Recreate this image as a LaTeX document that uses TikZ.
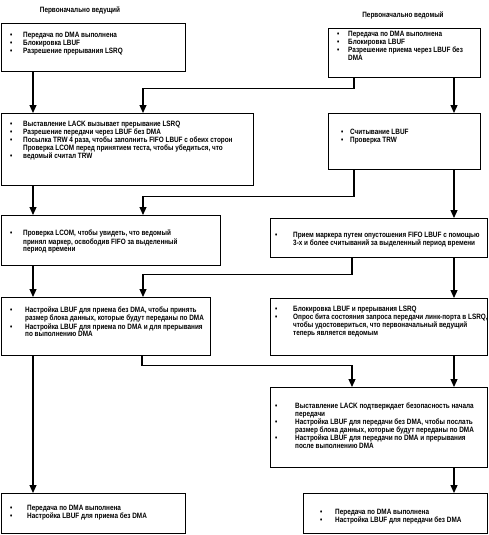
\documentclass[tikz,border=0pt]{standalone}
\usepackage{fontspec}
\setmainfont{Liberation Sans}[FakeStretch=0.83]
\usetikzlibrary{arrows.meta,calc}
\newcommand\bu{\textbullet}
\newcommand\fs{\fontsize{7.7}{7.9}\selectfont\bfseries}
\begin{document}
\begin{tikzpicture}[x=1pt,y=-1pt,
  box/.style={draw, line width=1.2pt, anchor=north west, inner sep=0pt},
  txt/.style={anchor=north west, inner sep=0pt, font=\fs},
  ttl/.style={inner sep=0pt, font=\fs},
  con/.style={line width=1.2pt, -{Triangle[width=7pt,length=8pt]}}]
\useasboundingbox (0,0) rectangle (489,535);
\fill[white] (0,0) rectangle (489,535);
% titles
\node[ttl] (t1) at (80,10) {Первоначально ведущий};
\node[ttl] (t2) at (403,15) {Первоначально ведомый};
% boxes
\node[box, minimum width=184pt, minimum height=48pt] (L1) at (1,23) {};
\node[box, minimum width=152pt, minimum height=49pt] (R1) at (328,28) {};
\node[box, minimum width=252pt, minimum height=72pt] (L2) at (1,113) {};
\node[box, minimum width=152pt, minimum height=56pt] (R2) at (328,113) {};
\node[box, minimum width=219pt, minimum height=50pt] (L3) at (1,215) {};
\node[box, minimum width=217pt, minimum height=39pt] (R3) at (270,218) {};
\node[box, minimum width=209pt, minimum height=58pt] (L4) at (1,297) {};
\node[box, minimum width=217pt, minimum height=57pt] (R4) at (270,298) {};
\node[box, minimum width=217pt, minimum height=80pt] (R5) at (270,387) {};
\node[box, minimum width=184pt, minimum height=40pt] (L5) at (1,493) {};
\node[box, minimum width=184pt, minimum height=40pt] (R6) at (303,493) {};
% texts
\node[txt] (tL1) at (10,32) {\begin{tabular}{@{}p{13pt}@{}l@{}}
\bu & Передача по DMA выполнена\\
\bu & Блокировка LBUF\\
\bu & Разрешение прерывания LSRQ\end{tabular}};
\node[txt] (tR1) at (337,31) {\begin{tabular}{@{}p{11pt}@{}l@{}}
\bu & Передача по DMA выполнена\\
\bu & Блокировка LBUF\\
\bu & Разрешение приема через LBUF без\\
 & DMA\end{tabular}};
\node[txt] (tL2) at (10,121) {\begin{tabular}{@{}p{13pt}@{}l@{}}
\bu & Выставление LACK вызывает прерывание LSRQ\\
\bu & Разрешение передачи через LBUF без DMA\\
\bu & Посылка TRW 4 раза, чтобы заполнить FIFO LBUF с обеих сторон\\
 & Проверка LCOM перед принятием теста, чтобы убедиться, что\\
\bu & ведомый считал TRW\end{tabular}};
\node[txt] (tR2) at (341,129) {\begin{tabular}{@{}p{9pt}@{}l@{}}
\bu & Считывание LBUF\\
\bu & Проверка TRW\end{tabular}};
\node[txt] (tL3) at (10,230) {\begin{tabular}{@{}p{13pt}@{}l@{}}
\bu & Проверка LCOM, чтобы увидеть, что ведомый\\
 & принял маркер, освободив FIFO за выделенный\\
 & период времени\end{tabular}};
\node[txt] (tR3) at (275,232) {\begin{tabular}{@{}p{18pt}@{}l@{}}
\bu & Прием маркера путем опустошения FIFO LBUF с помощью\\
 & 3-х и более считываний за выделенный период времени\end{tabular}};
\node[txt] (tL4) at (10,307) {\begin{tabular}{@{}p{15pt}@{}l@{}}
\bu & Настройка LBUF для приема без DMA, чтобы принять\\
 & размер блока данных, которые будут переданы по DMA\\
\bu & Настройка LBUF для приема по DMA и для прерывания\\
 & по выполнению DMA\end{tabular}};
\node[txt] (tR4) at (275,306) {\begin{tabular}{@{}p{18pt}@{}l@{}}
\bu & Блокировка LBUF и прерывания LSRQ\\
\bu & Опрос бита состояния запроса передачи линк-порта в LSRQ,\\
 & чтобы удостовериться, что первоначальный ведущий\\
 & теперь является ведомым\end{tabular}};
\node[txt] (tR5) at (275,403) {\begin{tabular}{@{}p{20pt}@{}l@{}}
\bu & Выставление LACK подтверждает безопасность начала\\
 & передачи\\
\bu & Настройка LBUF для передачи без DMA, чтобы послать\\
 & размер блока данных, которые будут переданы по DMA\\
\bu & Настройка LBUF для передачи по DMA и прерывания\\
 & после выполнению DMA\end{tabular}};
\node[txt] (tL5) at (10,505) {\begin{tabular}{@{}p{17pt}@{}l@{}}
\bu & Передача по DMA выполнена\\
\bu & Настройка LBUF для приема без DMA\end{tabular}};
\node[txt] (tR6) at (320,509) {\begin{tabular}{@{}p{15pt}@{}l@{}}
\bu & Передача по DMA выполнена\\
\bu & Настройка LBUF для передачи без DMA\end{tabular}};
% connectors
\draw[con] ($(L1.south west)+(32,0)$) -- ($(L2.north west)+(32,0)$);
\draw[con] ($(R1.south west)+(26,0)$) -- ++(0,10) -| ($(L2.north west)+(142,0)$);
\draw[con] ($(R1.south west)+(126,0)$) -- ($(R2.north west)+(126,0)$);
\draw[con] ($(L2.south west)+(32,0)$) -- ($(L3.north west)+(32,0)$);
\draw[con] ($(R2.south west)+(26,0)$) -- ++(0,26) -| ($(L3.north west)+(142,0)$);
\draw[con] ($(R2.south west)+(126,0)$) -- ($(R3.north west)+(184,0)$);
\draw[con] ($(L3.south west)+(32,0)$) -- ($(L4.north west)+(32,0)$);
\draw[con] ($(R3.south west)+(82,0)$) -- ++(0,16) -| ($(L4.north west)+(142,0)$);
\draw[con] ($(R3.south west)+(184,0)$) -- ($(R4.north west)+(184,0)$);
\draw[con] ($(L4.south west)+(32,0)$) -- ($(L5.north west)+(32,0)$);
\draw[con] ($(L4.south west)+(141,0)$) -- ++(0,9) -| ($(R5.north west)+(82,0)$);
\draw[con] ($(R4.south west)+(184,0)$) -- ($(R5.north west)+(184,0)$);
\draw[con] ($(R5.south west)+(184,0)$) -- ($(R6.north west)+(151,0)$);
\end{tikzpicture}
\end{document}
